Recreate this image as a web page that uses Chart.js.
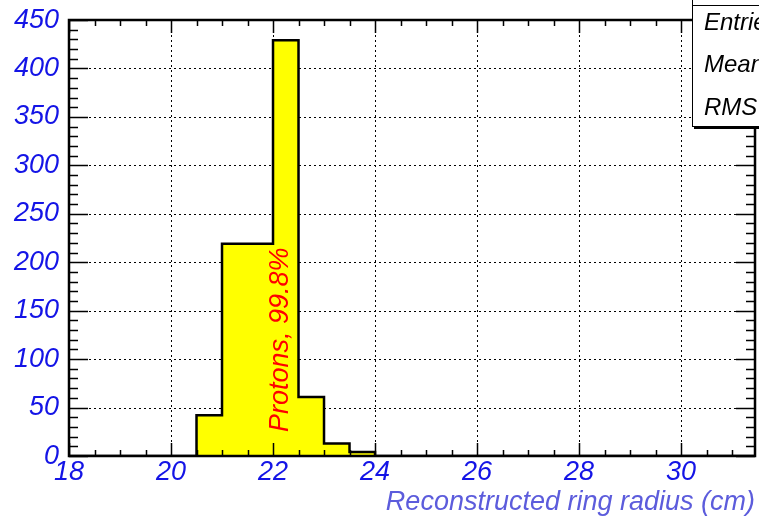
<!DOCTYPE html>
<html lang="en">
<head>
  <meta charset="UTF-8">
  <title>Reconstructed ring radius</title>
  <script src="https://cdn.jsdelivr.net/npm/chart.js"></script>
  <style>
    html, body { margin: 0; padding: 0; background: #fff; }
    #wrap { width: 759px; height: 519px; position: relative; }
  </style>
</head>
<body>
  <div id="wrap"><canvas id="radiusChart"></canvas></div>

  <script>
    // bin low edges (cm) and counts per bin, last edge closes the histogram
    const binEdges = [18, 18.5, 19, 19.5, 20, 20.5, 21, 21.5, 22, 22.5, 23, 23.5, 24, 24.5,
                      25, 25.5, 26, 26.5, 27, 27.5, 28, 28.5, 29, 29.5, 30, 30.5, 31, 31.5];
    const binCounts = [0, 0, 0, 0, 0, 42, 219, 219, 429, 61, 13, 4, 0, 0,
                       0, 0, 0, 0, 0, 0, 0, 0, 0, 0, 0, 0, 0, 0];
    const xTickLabels = [18, 20, 22, 24, 26, 28, 30];
    const yTickLabels = [0, 50, 100, 150, 200, 250, 300, 350, 400, 450];
    const xTitle = 'Reconstructed ring radius (cm)';
    const peakLabel = 'Protons, 99.8%';
    const statsRows = ['Entries', 'Mean', 'RMS'];

    const blue = '#1414e6';
    const fontFam = '"Liberation Sans", Arial, sans-serif';

    // grid behind the histogram, ROOT style ticks + frame on top
    const rootFrame = {
      id: 'rootFrame',
      beforeDatasetsDraw(chart) {
        const { ctx, chartArea: a, scales: { x, y } } = chart;
        ctx.save();
        ctx.strokeStyle = '#000';
        ctx.lineWidth = 1;
        ctx.setLineDash([2, 3]);
        ctx.beginPath();
        xTickLabels.slice(1).forEach(v => {
          const px = Math.round(x.getPixelForValue(v)) + 0.5;
          ctx.moveTo(px, a.top); ctx.lineTo(px, a.bottom);
        });
        yTickLabels.slice(1, -1).forEach(v => {
          const py = Math.round(y.getPixelForValue(v)) + 0.5;
          ctx.moveTo(a.left, py); ctx.lineTo(a.right, py);
        });
        ctx.stroke();
        ctx.restore();
      },
      afterDatasetsDraw(chart) {
        const { ctx, chartArea: a, scales: { x, y } } = chart;
        ctx.save();
        ctx.strokeStyle = '#000';
        ctx.lineWidth = 1.5;
        ctx.beginPath();
        for (let v = 18; v <= 31.45; v += 0.5) {
          const major = xTickLabels.includes(v);
          const len = major ? 13 : 6;
          const px = Math.round(x.getPixelForValue(v)) + 0.5;
          ctx.moveTo(px, a.bottom); ctx.lineTo(px, a.bottom - len);
          ctx.moveTo(px, a.top); ctx.lineTo(px, a.top + len);
        }
        for (let v = 0; v <= 450; v += 10) {
          const major = v % 50 === 0;
          const len = major ? 19 : 9;
          const py = Math.round(y.getPixelForValue(v)) + 0.5;
          ctx.moveTo(a.left, py); ctx.lineTo(a.left + len, py);
          ctx.moveTo(a.right, py); ctx.lineTo(a.right - len, py);
        }
        ctx.stroke();
        ctx.lineWidth = 2.5;
        ctx.strokeRect(a.left, a.top, a.right - a.left, a.bottom - a.top);

        // label on the peak
        ctx.fillStyle = '#ff0000';
        ctx.font = 'italic 27px ' + fontFam;
        ctx.textAlign = 'center';
        ctx.textBaseline = 'middle';
        ctx.translate(x.getPixelForValue(22.15), y.getPixelForValue(120));
        ctx.rotate(-Math.PI / 2);
        ctx.fillText(peakLabel, 0, 0);
        ctx.restore();

        // stats box (mostly off canvas)
        ctx.save();
        ctx.fillStyle = '#fff';
        ctx.fillRect(692, -2, 80, 129);
        ctx.strokeStyle = '#000';
        ctx.lineWidth = 1;
        ctx.strokeRect(692.5, -2, 80, 128.5);
        ctx.beginPath();
        ctx.moveTo(692, 5.5); ctx.lineTo(770, 5.5);
        ctx.stroke();
        ctx.lineWidth = 2;
        ctx.beginPath();
        ctx.moveTo(694, 128); ctx.lineTo(770, 128);
        ctx.stroke();
        ctx.fillStyle = '#000';
        ctx.font = 'italic 24px ' + fontFam;
        ctx.textAlign = 'left';
        ctx.textBaseline = 'middle';
        statsRows.forEach((t, i) => ctx.fillText(t, 704, 23 + i * 42.5));
        ctx.restore();
      }
    };

    new Chart(document.getElementById('radiusChart'), {
      type: 'line',
      data: {
        datasets: [{
          data: binEdges.map((e, i) => ({ x: e, y: binCounts[i] })),
          stepped: 'before',
          borderColor: '#000',
          borderWidth: 2.5,
          backgroundColor: '#ffff00',
          fill: 'origin',
          pointRadius: 0,
          tension: 0
        }]
      },
      options: {
        responsive: true,
        maintainAspectRatio: false,
        animation: false,
        layout: { padding: { top: 20, right: 4, left: 0, bottom: 0 } },
        plugins: { legend: { display: false }, tooltip: { enabled: false } },
        scales: {
          x: {
            type: 'linear',
            min: 18,
            max: 31.45,
            afterBuildTicks: s => { s.ticks = xTickLabels.map(v => ({ value: v })); },
            afterFit: s => { s.height = 63; s.paddingLeft = 0; s.paddingRight = 0; },
            grid: { display: false, drawTicks: false },
            border: { display: false },
            ticks: {
              color: blue,
              padding: 0,
              maxRotation: 0,
              font: { family: fontFam, size: 27, style: 'italic' }
            },
            title: {
              display: true,
              text: xTitle,
              align: 'end',
              color: '#5c5cdc',
              padding: { top: 0, bottom: 0 },
              font: { family: fontFam, size: 27, style: 'italic' }
            }
          },
          y: {
            min: 0,
            max: 450,
            afterBuildTicks: s => { s.ticks = yTickLabels.map(v => ({ value: v })); },
            afterFit: s => { s.width = 69; s.paddingTop = 0; s.paddingBottom = 0; },
            grid: { display: false, drawTicks: false },
            border: { display: false },
            ticks: {
              color: blue,
              padding: 10,
              font: { family: fontFam, size: 27, style: 'italic' }
            }
          }
        }
      },
      plugins: [rootFrame]
    });
  </script>
</body>
</html>
